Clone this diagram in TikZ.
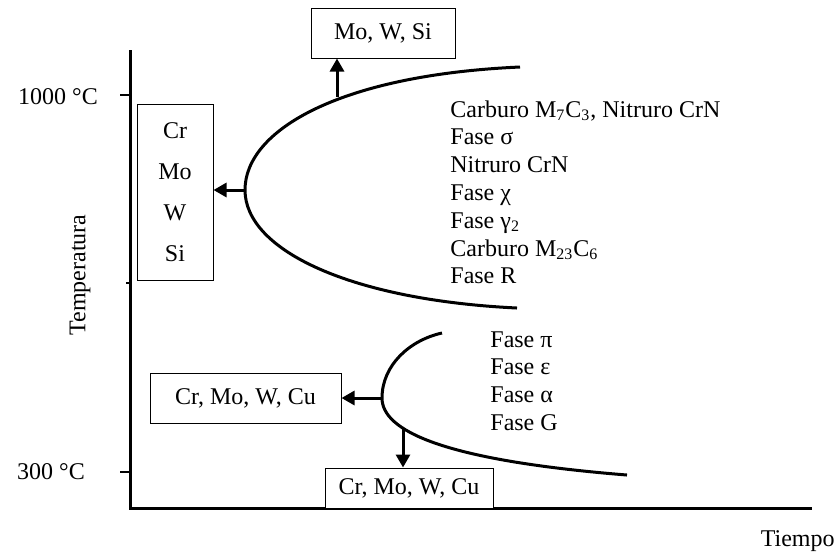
\documentclass[tikz,border=0pt]{standalone}
\usepackage{fontspec}
\setmainfont{Liberation Serif}
\usetikzlibrary{arrows.meta}

\begin{document}
\begin{tikzpicture}[x=0.5pt,y=-0.5pt,
    every node/.style={font=\fontsize{12}{14}\selectfont, inner sep=0pt},
    box/.style={draw, line width=0.5pt, fill=white, align=center},
    thick line/.style={line width=1.5pt},
    push/.style={line width=1.5pt, -{Triangle[length=6.5pt,width=7pt]}}]
  \useasboundingbox (0,0) rectangle (838,554);

  % ejes
  \draw[thick line] (130,50) -- (130,508) -- (812,508);
  \draw[line width=1pt] (120,95) -- (130,95);
  \draw[line width=1pt] (120,472) -- (130,472);
  \draw[line width=1pt] (126,283) -- (130,283);
  \node (t1000) at (58,97) {1000 °C};
  \node (t300) at (51,472) {300 °C};
  \node[rotate=90] (temp) at (80,275) {Temperatura};
  \node[anchor=base east] (tiempo) at (835,546) {Tiempo};

  % curvas
  \coordinate (alto) at (245,190);
  \coordinate (bajo) at (382,398);
  \draw[thick line] (520,67) .. controls (340,75) and (245,130) .. (alto)
    .. controls (245,250) and (350,300) .. (517,308);
  \draw[thick line] (442,333) .. controls (410,340) and (382,365) .. (bajo)
    .. controls (382,430) and (440,460) .. (627,475);
  \coordinate (arriba) at (337,97);
  \coordinate (abajo) at (403,428);

  % cajas
  \node[box, minimum width=72pt, minimum height=25pt] (mowsi) at (383,33) {Mo, W, Si};
  \node[box, minimum width=38pt, minimum height=88pt, font=\fontsize{12}{20.5}\selectfont]
    (crmowsi) at (175,192) {Cr\\Mo\\W\\Si};
  \node[box, minimum width=95.5pt, minimum height=25pt] (cu1) at (245.5,398) {Cr, Mo, W, Cu};
  \node[box, minimum width=84pt, minimum height=20pt] (cu2) at (409,488) {Cr, Mo, W, Cu};

  \draw[push] (alto) -- (alto -| crmowsi.east);
  \draw[push] (arriba) -- (arriba |- mowsi.south);
  \draw[push] (bajo) -- (bajo -| cu1.east);
  \draw[push] (abajo) -- (abajo |- cu2.north);

  % fases
  \foreach \f [count=\i from 0] in {Carburo M\textsubscript{7}C\textsubscript{3}{,} Nitruro CrN,
      Fase σ, Nitruro CrN, Fase χ, Fase γ\textsubscript{2},
      Carburo M\textsubscript{23}C\textsubscript{6}, Fase R}
    \node[anchor=base west] (fa\i) at (450,117+27.8*\i) {\f};
  \foreach \f [count=\i from 0] in {Fase π, Fase ε, Fase α, Fase G}
    \node[anchor=base west] (fb\i) at (490,347+27.7*\i) {\f};
\end{tikzpicture}
\end{document}
